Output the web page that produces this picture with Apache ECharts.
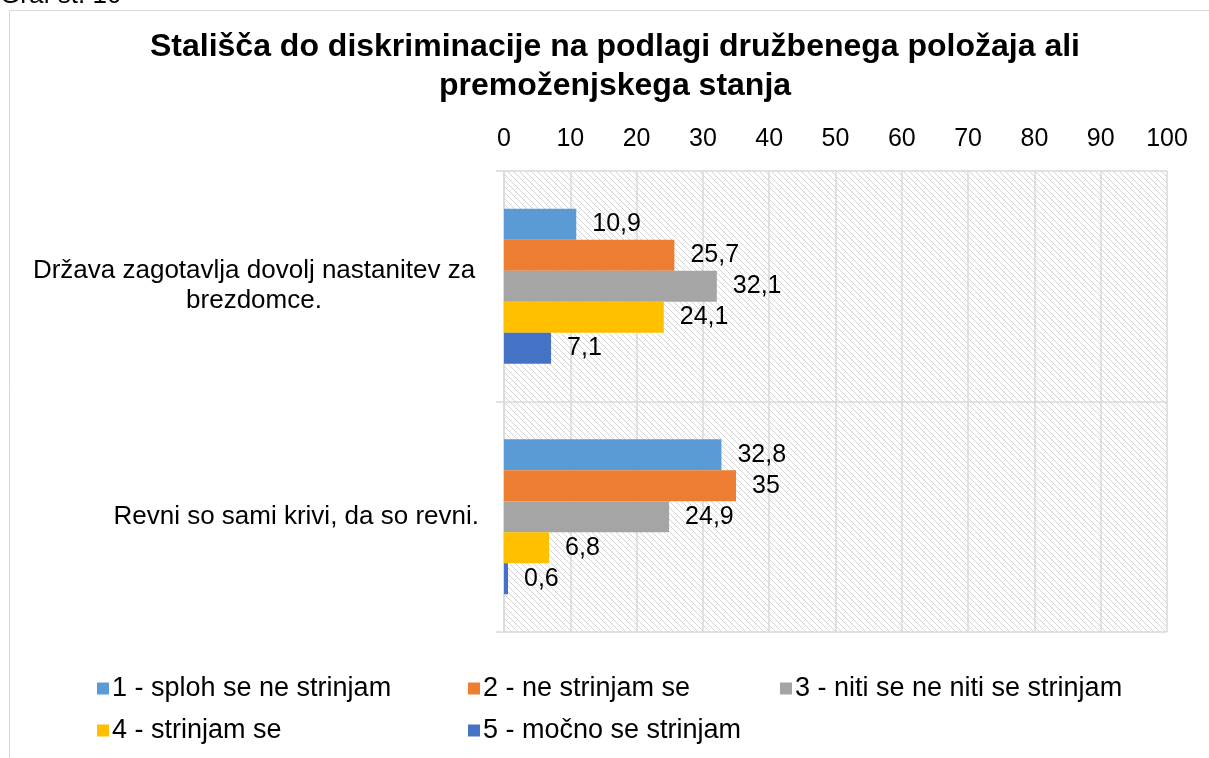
<!DOCTYPE html>
<html>
<head>
<meta charset="utf-8">
<script src="https://cdn.jsdelivr.net/npm/echarts@6/dist/echarts.min.js"></script>
<style>
html,body{margin:0;padding:0;background:#fff;}
#c{width:1209px;height:758px;}
</style>
</head>
<body>
<div id="c"></div>
<script>
const categories = ['Država zagotavlja dovolj nastanitev za\nbrezdomce.', 'Revni so sami krivi, da so revni.'];
const seriesNames = ['1 - sploh se ne strinjam', '2 - ne strinjam se', '3 - niti se ne niti se strinjam', '4 - strinjam se', '5 - močno se strinjam'];
const s1 = [10.9, 32.8];
const s2 = [25.7, 35];
const s3 = [32.1, 24.9];
const s4 = [24.1, 6.8];
const s5 = [7.1, 0.6];
const seriesValues = [s1, s2, s3, s4, s5];
const colors = ['#5B9BD5', '#ED7D31', '#A5A5A5', '#FFC000', '#4472C4'];
const xTicks = [0, 10, 20, 30, 40, 50, 60, 70, 80, 90, 100];
const titleText = 'Stališča do diskriminacije na podlagi družbenega položaja ali\npremoženjskega stanja';
const captionText = 'Graf št. 10';

const font = '"Liberation Sans", Arial, sans-serif';
const catFontSize = 26;

// hatch pattern for plot background
const pc = document.createElement('canvas');
pc.width = 6; pc.height = 6;
const px = pc.getContext('2d');
px.fillStyle = '#ffffff'; px.fillRect(0,0,6,6);
px.strokeStyle = '#d4d4d4'; px.lineWidth = 1;
px.beginPath();
px.moveTo(0,0); px.lineTo(6,6);
px.moveTo(-3,3); px.lineTo(3,9);
px.moveTo(3,-3); px.lineTo(9,3);
px.stroke();

// measure text for centered multi-line category labels
const mc = document.createElement('canvas').getContext('2d');
mc.font = catFontSize + 'px ' + font;
const catRich = {c: {fontSize: catFontSize, color: '#000', align: 'center', lineHeight: 30, fontFamily: font, width: 450}};
function catLabel(v) {
  const lines = v.split('\n');
  if (lines.length === 1) return v;
  const w = Math.ceil(Math.max(...lines.map(l => mc.measureText(l).width)));
  catRich.c.width = w;
  return lines.map(l => '{c|' + l + '}').join('\n');
}

const chart = echarts.init(document.getElementById('c'), null, {renderer: 'canvas'});
const legendPos = [[97, 675], [468, 675], [780, 675], [97, 717], [468, 717]];

chart.setOption({
  animation: false,
  backgroundColor: '#ffffff',
  textStyle: {fontFamily: font},
  graphic: [
    {type: 'rect', shape: {x: 9.5, y: 10.5, width: 1220, height: 800}, style: {fill: 'none', stroke: '#d9d9d9', lineWidth: 1}, z: -10},
    {type: 'text', x: 0, y: 9, style: {text: captionText, font: '26px ' + font, fill: '#000', verticalAlign: 'bottom'}},
    {type: 'text', x: 615, y: 28, style: {text: titleText, font: 'bold 32px ' + font, fill: '#000', align: 'center', verticalAlign: 'top', lineHeight: 39}}
  ],
  legend: seriesNames.map((n, i) => ({
    data: [n], left: legendPos[i][0], top: legendPos[i][1], padding: 0,
    icon: 'rect', itemWidth: 12, itemHeight: 12, itemGap: 0,
    textStyle: {fontSize: 27, color: '#000', padding: [0,0,0,-2], fontFamily: font},
    selectedMode: false
  })),
  grid: {
    left: 504, right: 42, top: 171, bottom: 126,
    show: true, borderWidth: 0,
    backgroundColor: {image: pc, repeat: 'repeat'}
  },
  xAxis: {
    type: 'value', position: 'top', min: xTicks[0], max: xTicks[xTicks.length - 1], interval: xTicks[1] - xTicks[0],
    axisLine: {show: false}, axisTick: {show: false},
    axisLabel: {fontSize: 25, color: '#000', margin: 19, fontFamily: font},
    splitLine: {show: true, lineStyle: {color: '#d9d9d9', width: 1.5}}
  },
  yAxis: {
    type: 'category', data: categories, inverse: true,
    axisLine: {show: true, lineStyle: {color: '#d9d9d9', width: 1.5}},
    axisTick: {show: true, length: 8, lineStyle: {color: '#d9d9d9', width: 1.5}},
    splitLine: {show: true, lineStyle: {color: '#d9d9d9', width: 1.5}},
    axisLabel: {fontSize: catFontSize, color: '#000', margin: 25, lineHeight: 30, fontFamily: font,
      formatter: catLabel, rich: catRich}
  },
  series: seriesValues.map((vals, i) => ({
    name: seriesNames[i], type: 'bar', data: vals, barWidth: 31, barGap: '0%',
    itemStyle: {color: colors[i]},
    label: {show: true, position: 'right', distance: 16, fontSize: 25, color: '#000', fontFamily: font,
      formatter: p => String(p.value).replace('.', ',')}
  }))
});
</script>
</body>
</html>
